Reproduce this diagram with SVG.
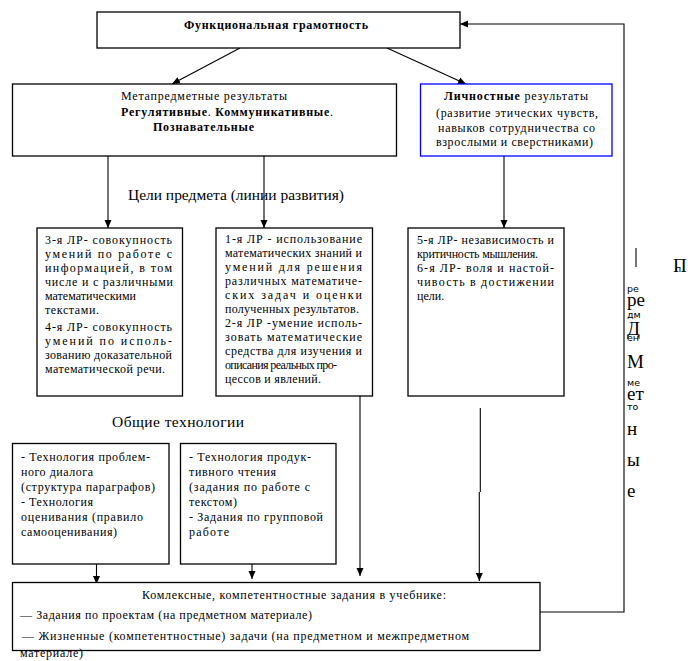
<svg xmlns="http://www.w3.org/2000/svg" width="688" height="661" viewBox="0 0 688 661">
<style>
.box{fill:#fff;stroke:#000;stroke-width:1.3}
.blue{fill:#fff;stroke:#0000ff;stroke-width:1.3}
.ln{fill:none;stroke:#000;stroke-width:1.1}
text{font-family:"Liberation Serif","DejaVu Serif",serif;fill:#000}
.t{font-size:12px}
.b{font-weight:bold}
.h{font-size:15.5px}
.big{font-size:19px}
.sm{font-size:9.5px;font-family:"DejaVu Sans","Liberation Sans",sans-serif}
</style>
<defs>
<marker id="ar" markerUnits="userSpaceOnUse" markerWidth="8" markerHeight="8" viewBox="0 0 8 8" refX="8" refY="4" orient="auto">
<path d="M0,0.5 L8,4 L0,7.5 Z" fill="#000"/>
</marker>
</defs>

<g id="connectors">
<line class="ln" x1="240" y1="48" x2="172" y2="84" marker-end="url(#ar)"/>
<line class="ln" x1="387" y1="48" x2="466" y2="84" marker-end="url(#ar)"/>
<polyline class="ln" points="540,612 624,612 624,24 460,24" marker-end="url(#ar)"/>
<line class="ln" x1="108" y1="156" x2="108" y2="228" marker-end="url(#ar)"/>
<line class="ln" x1="264" y1="156" x2="264" y2="228" marker-end="url(#ar)"/>
<line class="ln" x1="504" y1="156" x2="504" y2="228" marker-end="url(#ar)"/>
<line class="ln" x1="96.5" y1="564" x2="96.5" y2="584" marker-end="url(#ar)"/>
<line class="ln" x1="252" y1="564" x2="252" y2="579" marker-end="url(#ar)"/>
<line class="ln" x1="360" y1="396" x2="360" y2="576" marker-end="url(#ar)"/>
<line class="ln" x1="480.3" y1="408" x2="480.3" y2="492"/>
<line class="ln" x1="479.3" y1="492" x2="479.3" y2="581" marker-end="url(#ar)"/>
<line class="ln" x1="636" y1="248" x2="636" y2="267"/>
</g>

<g id="top">
<rect class="box" x="97" y="12" width="363" height="36"/>
<text class="t b" x="184" y="29" textLength="184" lengthAdjust="spacing">Функциональная грамотность</text>
</g>

<g id="meta">
<rect class="box" x="12.5" y="84" width="384" height="72"/>
<text class="t" x="121" y="100" textLength="166" lengthAdjust="spacing">Метапредметные результаты</text>
<text class="t" x="121" y="116" textLength="212" lengthAdjust="spacing"><tspan class="b">Регулятивные</tspan>. <tspan class="b">Коммуникативные</tspan>.</text>
<text class="t b" x="153" y="131" textLength="101" lengthAdjust="spacing">Познавательные</text>
</g>

<g id="lichn">
<rect class="blue" x="420.5" y="84" width="191.5" height="72"/>
<text class="t" x="444" y="100" textLength="144" lengthAdjust="spacing"><tspan class="b">Личностные</tspan> результаты</text>
<text class="t" x="436" y="117" textLength="162" lengthAdjust="spacing">(развитие этических чувств,</text>
<text class="t" x="438" y="132" textLength="157" lengthAdjust="spacing">навыков сотрудничества со</text>
<text class="t" x="436" y="146" textLength="157" lengthAdjust="spacing">взрослыми и сверстниками)</text>
</g>

<text class="h" x="128" y="200" textLength="216" lengthAdjust="spacing">Цели предмета (линии развития)</text>

<g id="lr34">
<rect class="box" x="37" y="228" width="145.5" height="168"/>
<text class="t" x="45" y="244" textLength="127" lengthAdjust="spacing">3-я ЛР- совокупность</text>
<text class="t" x="45" y="258" textLength="127" lengthAdjust="spacing">умений по работе с</text>
<text class="t" x="45" y="272" textLength="127" lengthAdjust="spacing">информацией, в том</text>
<text class="t" x="45" y="286" textLength="128" lengthAdjust="spacing">числе и с различными</text>
<text class="t" x="45" y="300" textLength="91" lengthAdjust="spacing">математическими</text>
<text class="t" x="45" y="314" textLength="54" lengthAdjust="spacing">текстами.</text>
<text class="t" x="45" y="331" textLength="127" lengthAdjust="spacing">4-я ЛР- совокупность</text>
<text class="t" x="45" y="345" textLength="127" lengthAdjust="spacing">умений по исполь-</text>
<text class="t" x="45" y="359" textLength="127" lengthAdjust="spacing">зованию доказательной</text>
<text class="t" x="45" y="373" textLength="120" lengthAdjust="spacing">математической речи.</text>
</g>

<g id="lr12">
<rect class="box" x="216" y="228" width="156.5" height="168"/>
<text class="t" x="225" y="243" textLength="137" lengthAdjust="spacing">1-я ЛР - использование</text>
<text class="t" x="225" y="257" textLength="137" lengthAdjust="spacing">математических знаний и</text>
<text class="t" x="225" y="271" textLength="137" lengthAdjust="spacing">умений для решения</text>
<text class="t" x="225" y="285" textLength="137" lengthAdjust="spacing">различных математиче-</text>
<text class="t" x="225" y="299" textLength="137" lengthAdjust="spacing">ских задач и оценки</text>
<text class="t" x="225" y="313" textLength="134" lengthAdjust="spacing">полученных результатов.</text>
<text class="t" x="225" y="327" textLength="137" lengthAdjust="spacing">2-я ЛР -умение исполь-</text>
<text class="t" x="225" y="341" textLength="137" lengthAdjust="spacing">зовать математические</text>
<text class="t" x="225" y="355" textLength="137" lengthAdjust="spacing">средства для изучения и</text>
<text class="t" x="225" y="369" textLength="112" lengthAdjust="spacing">описания реальных про-</text>
<text class="t" x="225" y="383" textLength="96" lengthAdjust="spacing">цессов и явлений.</text>
</g>

<g id="lr56">
<rect class="box" x="408" y="228" width="156" height="168"/>
<text class="t" x="417" y="244" textLength="137" lengthAdjust="spacing">5-я ЛР- независимость и</text>
<text class="t" x="417" y="258" textLength="121" lengthAdjust="spacing">критичность мышления.</text>
<text class="t" x="417" y="272" textLength="137" lengthAdjust="spacing">6-я ЛР- воля и настой-</text>
<text class="t" x="417" y="286" textLength="137" lengthAdjust="spacing">чивость в достижении</text>
<text class="t" x="417" y="300">цели.</text>
</g>

<g id="side-text">
<text class="big" x="673" y="272">П</text>
<text class="sm" x="675" y="272">п</text>
<text class="sm" x="627" y="292">ре</text>
<text class="big" x="627" y="306">ре</text>
<text class="sm" x="627" y="318">дм</text>
<text class="big" x="627" y="335">Д</text>
<text class="sm" x="627" y="341">ен</text>
<text class="big" x="627" y="368">М</text>
<text class="sm" x="627" y="386">ме</text>
<text class="big" x="627" y="400">ет</text>
<text class="sm" x="627" y="410">то</text>
<text class="big" x="627" y="435">н</text>
<text class="big" x="627" y="466">ы</text>
<text class="big" x="627" y="497">е</text>
</g>

<text class="h" x="112" y="427" textLength="132" lengthAdjust="spacing">Общие технологии</text>

<g id="tech1">
<rect class="box" x="12.5" y="443.5" width="156.5" height="120.5"/>
<text class="t" x="21" y="461" textLength="129" lengthAdjust="spacing">- Технология проблем-</text>
<text class="t" x="21" y="476" textLength="72" lengthAdjust="spacing">ного диалога</text>
<text class="t" x="21" y="491" textLength="134" lengthAdjust="spacing">(структура параграфов)</text>
<text class="t" x="21" y="506" textLength="72" lengthAdjust="spacing">- Технология</text>
<text class="t" x="21" y="521" textLength="122" lengthAdjust="spacing">оценивания (правило</text>
<text class="t" x="21" y="536" textLength="96" lengthAdjust="spacing">самооценивания)</text>
</g>

<g id="tech2">
<rect class="box" x="180.5" y="443.5" width="155.5" height="120.5"/>
<text class="t" x="189" y="461" textLength="122" lengthAdjust="spacing">- Технология продук-</text>
<text class="t" x="189" y="476" textLength="87" lengthAdjust="spacing">тивного чтения</text>
<text class="t" x="189" y="491" textLength="121" lengthAdjust="spacing">(задания по работе с</text>
<text class="t" x="189" y="506" textLength="48" lengthAdjust="spacing">текстом)</text>
<text class="t" x="189" y="521" textLength="134" lengthAdjust="spacing">- Задания по групповой</text>
<text class="t" x="189" y="536" textLength="40" lengthAdjust="spacing">работе</text>
</g>

<g id="complex">
<rect class="box" x="12.5" y="582.5" width="527.5" height="68"/>
<text class="t" x="142" y="599" textLength="304" lengthAdjust="spacing">Комлексные, компетентностные задания в учебнике:</text>
<text class="t" x="20" y="619" textLength="292" lengthAdjust="spacing">— Задания по проектам (на предметном материале)</text>
<text class="t" x="22" y="640" textLength="447" lengthAdjust="spacing">— Жизненные (компетентностные) задачи  (на предметном и межпредметном</text>
<text class="t" x="20" y="657" textLength="63" lengthAdjust="spacing">материале)</text>
</g>
</svg>
